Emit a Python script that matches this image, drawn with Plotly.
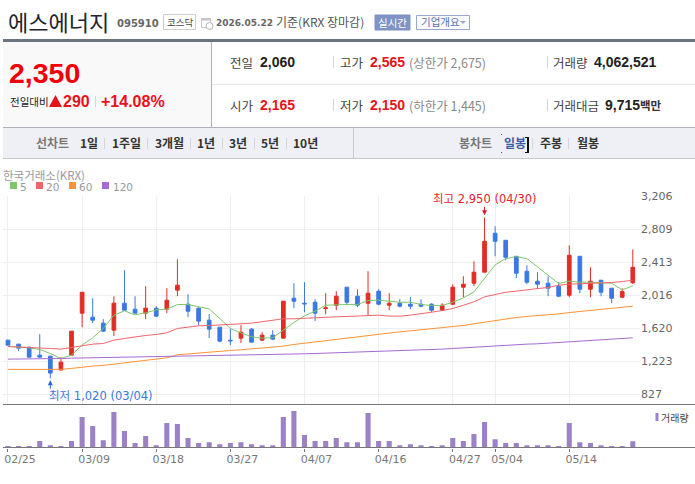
"""S-Energy daily candle chart page, rebuilt with plotly."""
import plotly.graph_objects as go

W, H = 695, 484
KR = "Noto Sans CJK KR, sans-serif"
CHART = "DejaVu Sans, Noto Sans CJK KR, sans-serif"
ARIAL = "Liberation Sans, Noto Sans CJK KR, sans-serif"
RED = "#e8121a"
CANDLE_UP = "#e22c26"
CANDLE_DOWN = "#3a78e2"

dates = [
    "02/25", "02/26", "02/27", "03/03", "03/04", "03/05", "03/06", "03/09", "03/10", "03/11",
    "03/12", "03/13", "03/16", "03/17", "03/18", "03/19", "03/20", "03/23", "03/24", "03/25",
    "03/26", "03/27", "03/30", "03/31", "04/01", "04/02", "04/03", "04/06", "04/07", "04/08",
    "04/09", "04/10", "04/13", "04/14", "04/15", "04/16", "04/17", "04/20", "04/21", "04/22",
    "04/23", "04/24", "04/27", "04/28", "04/29", "04/30", "05/04", "05/06", "05/07", "05/08",
    "05/11", "05/12", "05/13", "05/14", "05/15", "05/18", "05/19", "05/20", "05/21", "05/22",
]
opens = [
    1477, 1429, 1393, 1297, 1285, 1118, 1297, 1801, 1753, 1681,
    1597, 1920, 1848, 1801, 1860, 1848, 2076, 1908, 1860, 1717,
    1633, 1476, 1501, 1609, 1477, 1537, 1501, 1980, 1920, 1932,
    1856, 1896, 2112, 2004, 1920, 2064, 1896, 1920, 1908, 1908,
    1908, 1836, 1908, 2112, 2160, 2292, 2759, 2675, 2483, 2304,
    2184, 2160, 2124, 2016, 2483, 2088, 2196, 2100, 1992, 2165,
]
highs = [
    1477, 1429, 1393, 1549, 1285, 1273, 1585, 2052, 1980, 1729,
    2004, 2316, 2004, 2124, 1884, 2100, 2447, 2028, 1872, 1789,
    1633, 1617, 1657, 1621, 1573, 1597, 1944, 2160, 2172, 1968,
    2040, 2064, 2112, 2088, 2304, 2088, 2040, 1968, 1992, 1968,
    1920, 1920, 2148, 2244, 2423, 2950, 2843, 2675, 2483, 2375,
    2292, 2244, 2172, 2615, 2483, 2351, 2196, 2100, 2100, 2565,
]
lows = [
    1417, 1345, 1273, 1273, 1020, 1118, 1297, 1633, 1681, 1573,
    1525, 1836, 1801, 1729, 1753, 1801, 2004, 1753, 1657, 1501,
    1453, 1417, 1441, 1453, 1465, 1477, 1501, 1860, 1812, 1705,
    1788, 1836, 1896, 1872, 1777, 1896, 1836, 1872, 1848, 1872,
    1812, 1836, 1896, 1992, 2124, 2292, 2483, 2435, 2220, 2148,
    2088, 2004, 1992, 1992, 2040, 1992, 2004, 1920, 1980, 2150,
]
closes = [
    1417, 1381, 1273, 1273, 1082, 1213, 1585, 2052, 1717, 1585,
    1920, 1836, 1801, 1860, 1765, 1956, 2136, 1824, 1705, 1609,
    1465, 1469, 1573, 1453, 1537, 1489, 1944, 1944, 1912, 1801,
    1864, 2004, 1932, 1896, 2040, 1908, 1920, 1884, 1884, 1884,
    1836, 1896, 2112, 2148, 2292, 2663, 2663, 2471, 2280, 2172,
    2148, 2100, 2004, 2495, 2088, 2184, 2052, 1980, 2060, 2350,
]
ma5 = [
    1401, 1393, 1385, 1365, 1317, 1257, 1297, 1417, 1505, 1617,
    1777, 1828, 1781, 1805, 1840, 1848, 1904, 1904, 1880, 1852,
    1737, 1617, 1565, 1517, 1501, 1505, 1597, 1689, 1769, 1824,
    1896, 1904, 1904, 1904, 1952, 1956, 1944, 1932, 1932, 1904,
    1892, 1892, 1932, 1984, 2056, 2216, 2380, 2455, 2479, 2455,
    2356, 2248, 2156, 2184, 2172, 2172, 2164, 2160, 2080, 2128,
]
ma20 = [
    1401, 1397, 1393, 1385, 1377, 1369, 1389, 1417, 1429, 1437,
    1477, 1497, 1517, 1533, 1545, 1565, 1617, 1633, 1649, 1653,
    1657, 1665, 1673, 1681, 1701, 1717, 1733, 1733, 1741, 1749,
    1753, 1757, 1761, 1769, 1777, 1777, 1765, 1765, 1777, 1792,
    1812, 1832, 1856, 1896, 1936, 1996, 2028, 2052, 2064, 2084,
    2096, 2108, 2136, 2148, 2152, 2156, 2164, 2168, 2180, 2196,
]
ma60 = [
    1126, 1126, 1126, 1126, 1126, 1126, 1138, 1154, 1166, 1174,
    1190, 1206, 1218, 1230, 1246, 1265, 1301, 1313, 1325, 1337,
    1345, 1353, 1361, 1373, 1381, 1389, 1405, 1425, 1441, 1453,
    1469, 1481, 1497, 1517, 1529, 1549, 1561, 1577, 1589, 1601,
    1617, 1629, 1641, 1653, 1673, 1693, 1717, 1737, 1749, 1761,
    1769, 1781, 1792, 1808, 1820, 1832, 1844, 1856, 1868, 1884,
]
ma120 = [
    1249, 1249, 1251, 1253, 1257, 1257, 1261, 1263, 1265, 1267,
    1269, 1273, 1275, 1277, 1281, 1285, 1287, 1289, 1291, 1293,
    1295, 1297, 1297, 1297, 1299, 1301, 1305, 1309, 1313, 1317,
    1321, 1325, 1327, 1329, 1333, 1341, 1343, 1345, 1349, 1353,
    1365, 1369, 1377, 1385, 1393, 1401, 1413, 1419, 1425, 1429,
    1433, 1441, 1449, 1461, 1469, 1477, 1481, 1489, 1497, 1505,
]
volumes = [
    900000, 900000, 900000, 4100000, 1500000, 900000, 4100000, 19500000, 13700000, 4700000,
    22700000, 10500000, 2800000, 7300000, 1500000, 15600000, 15000000, 6000000, 2800000, 3400000,
    2100000, 2800000, 3400000, 2100000, 1500000, 1500000, 19500000, 23300000, 7900000, 4100000,
    4100000, 6000000, 3400000, 3400000, 22000000, 4100000, 4100000, 1500000, 2100000, 1500000,
    900000, 1500000, 6000000, 4100000, 8600000, 16200000, 5300000, 2800000, 2800000, 1500000,
    1500000, 1500000, 900000, 15600000, 3400000, 2800000, 1500000, 900000, 900000, 4062521,
]
price_ticks = [827, 1223, 1620, 2016, 2413, 2809, 3206]
date_ticks = ["02/25", "03/09", "03/18", "03/27", "04/07", "04/16", "04/27", "05/04", "05/14"]
ma_series = [("5", ma5, "#7cc86a"), ("20", ma20, "#f0656a"), ("60", ma60, "#ff9233"), ("120", ma120, "#a56ad6")]


def px(x):
    return x / W


def py(y):
    return 1 - y / H


def label(x, y, text, size=13, color="#444", family=KR, anchor="left", bold=False):
    # annotations carry about 2px of padding on the left
    body = f"<b>{text}</b>" if bold else text
    return dict(
        x=px(x - 2 if anchor == "left" else x), y=py(y), xref="paper", yref="paper", text=body, showarrow=False,
        xanchor=anchor, yanchor="middle", align=anchor,
        font=dict(size=size, color=color, family=family),
    )


def hline(y, x0, x1, color, width=1):
    return dict(type="line", xref="paper", yref="paper", x0=px(x0), x1=px(x1), y0=py(y), y1=py(y),
                line=dict(color=color, width=width))


def vline(x, y0, y1, color="#d5d5d5", width=1):
    return dict(type="line", xref="paper", yref="paper", x0=px(x), x1=px(x), y0=py(y0), y1=py(y1),
                line=dict(color=color, width=width))


def box(x0, y0, x1, y1, fill=None, line=None):
    return dict(type="rect", xref="paper", yref="paper", x0=px(x0), x1=px(x1), y0=py(y0), y1=py(y1),
                fillcolor=fill or "rgba(0,0,0,0)", line=dict(color=line or "rgba(0,0,0,0)", width=1 if line else 0),
                layer="below")


fig = go.Figure()
fig.add_trace(go.Candlestick(
    x=dates, open=opens, high=highs, low=lows, close=closes, whiskerwidth=0,
    increasing=dict(line=dict(color=CANDLE_UP, width=1), fillcolor=CANDLE_UP),
    decreasing=dict(line=dict(color=CANDLE_DOWN, width=1), fillcolor=CANDLE_DOWN),
    showlegend=False, xaxis="x", yaxis="y",
))
for name, values, color in ma_series:
    fig.add_trace(go.Scatter(x=dates, y=values, mode="lines", name=name, showlegend=False,
                             line=dict(color=color, width=1), xaxis="x", yaxis="y"))
fig.add_trace(go.Bar(x=dates, y=volumes, marker=dict(color="#9b82c6", line=dict(width=0)),
                     showlegend=False, xaxis="x2", yaxis="y2"))

shapes = [
    # header chrome
    box(3, 42, 211, 127, fill="#f9f9f9"),
    box(3, 128, 695, 158, fill="#eff0f5"),
    hline(40.5, 3, 695, "#6b7280", 3),
    hline(84.5, 212, 695, "#e6e6e6"),
    hline(127.5, 3, 695, "#b0b0b8"),
    hline(158.5, 3, 695, "#c8c8cc"),
    vline(211.5, 42, 127, "#b0b0b0"),
    vline(333.5, 56, 68), vline(333.5, 99, 111),
    vline(547.5, 56, 68), vline(547.5, 99, 111),
    vline(95.5, 96, 107),
    vline(353.5, 128, 158, "#c8c8cc"),
    box(163.5, 14.5, 195.5, 29.5, line="#cccccc"),
    # calendar icon
    box(201.5, 18.5, 210.5, 27.5, line="#c4c4c4"),
    box(201.5, 18.5, 210.5, 20.5, fill="#c4c4c4"),
    dict(type="circle", xref="paper", yref="paper", x0=px(206), x1=px(213), y0=py(29.5), y1=py(22.5),
         fillcolor="#ffffff", line=dict(color="#b4b4b4", width=1)),
    box(375, 15, 410, 30, fill="#7f93c4", line="#7f93c4"),
    box(416.5, 15.5, 469.5, 29.5, fill="#fbfbff", line="#9aa8d0"),
    dict(type="path", xref="paper", yref="paper", line=dict(width=0), fillcolor=RED,
         path=f"M {px(49)} {py(107)} L {px(62)} {py(107)} L {px(55.5)} {py(95)} Z"),
    dict(type="path", xref="paper", yref="paper", line=dict(width=0), fillcolor="#9aa8d0",
         path=f"M {px(460)} {py(21)} L {px(466)} {py(21)} L {px(463)} {py(24)} Z"),
    # selected tab cursor
    vline(528, 137, 153, "#111111", 2),
    hline(137.5, 525, 528, "#111111"),
    hline(152.5, 525, 528, "#111111"),
    box(501, 134, 502, 135, fill="#555555"),
    box(501, 152, 502, 153, fill="#555555"),
    # chart rules
    hline(404.5, 3, 695, "#777777"),
    hline(447.5, 3, 695, "#777777"),
    box(655.5, 413, 658.5, 421, fill="#9b82c6"),
]
for x in [104.5, 147.5, 190.5, 222.5, 254.5, 286.5, 532.5, 568.5]:
    shapes.append(vline(x, 138, 149))
for x0, (_, _, color) in zip([10, 36, 69, 102], ma_series):
    shapes.append(box(x0, 182, x0 + 7, 189, fill=color))

annotations = [
    label(8, 21, "에스에너지", size=22, color="#22242c"),
    label(117, 23, "095910", size=10, color="#666", family=CHART, bold=True),
    label(179.5, 22, "코스닥", size=9.5, color="#444", anchor="center"),
    label(216, 22.5, "2026.05.22", size=9, color="#666", family=CHART, bold=True),
    label(276, 22, "기준(KRX 장마감)", size=12, color="#555"),
    label(392.5, 22.5, "실시간", size=10.5, color="#ffffff", anchor="center"),
    label(421, 22, "기업개요", size=10.5, color="#5a6fa8"),
    label(9, 73, "2,350", size=28.5, color="#f00008", family=ARIAL, bold=True),
    label(10, 101, "전일대비", size=10.5, color="#222"),
    label(63, 101, "290", size=16, color=RED, family=ARIAL, bold=True),
    label(101, 101, "+14.08%", size=16, color=RED, family=ARIAL, bold=True),
    label(230, 62, "전일", size=12.5, color="#444"),
    label(260, 62, "2,060", size=14, color="#222", family=ARIAL, bold=True),
    label(340, 62, "고가", size=12.5, color="#444"),
    label(370, 62, "2,565", size=14, color=RED, family=ARIAL, bold=True),
    label(409, 62, "(상한가 2,675)", size=12.5, color="#888"),
    label(553, 62, "거래량", size=12.5, color="#444"),
    label(594, 62, "4,062,521", size=14, color="#222", family=ARIAL, bold=True),
    label(230, 105, "시가", size=12.5, color="#444"),
    label(260, 105, "2,165", size=14, color=RED, family=ARIAL, bold=True),
    label(340, 105, "저가", size=12.5, color="#444"),
    label(370, 105, "2,150", size=14, color=RED, family=ARIAL, bold=True),
    label(409, 105, "(하한가 1,445)", size=12.5, color="#888"),
    label(553, 105, "거래대금", size=12.5, color="#444"),
    label(605, 105, "9,715", size=14, color="#222", family=ARIAL, bold=True),
    label(640, 105, "백만", size=11.5, color="#333", bold=True),
    label(36, 143, "선차트", size=12, color="#777", bold=True),
    label(459, 143, "봉차트", size=12, color="#777", bold=True),
    label(504, 143, "일봉", size=12, color="#3a5ba8", bold=True),
    label(540, 143, "주봉", size=12, color="#333", bold=True),
    label(577, 143, "월봉", size=12, color="#333", bold=True),
    label(3, 174.5, "한국거래소(KRX)", size=11.5, color="#999"),
    label(20, 187, "5", size=10.5, color="#999", family=CHART),
    label(46, 187, "20", size=10.5, color="#999", family=CHART),
    label(79, 187, "60", size=10.5, color="#999", family=CHART),
    label(113, 187, "120", size=10.5, color="#999", family=CHART),
    label(661, 417, "거래량", size=10, color="#444"),
    # extremes, tied to the data
    dict(x="04/30", y=2950, xref="x", yref="y", text="최고 2,950 (04/30)", showarrow=False,
         xshift=0, yshift=18, xanchor="center", yanchor="middle",
         font=dict(size=11.5, color="#f0202a", family=CHART)),
    dict(x="04/30", y=2950, xref="x", yref="y", text="", showarrow=True, ax=0, ay=-12, standoff=2,
         arrowhead=2, arrowsize=1, arrowwidth=1, arrowcolor="#d81e24"),
    dict(x="03/04", y=1020, xref="x", yref="y", text="최저 1,020 (03/04)", showarrow=False,
         xshift=-3, yshift=-18, xanchor="left", yanchor="middle",
         font=dict(size=11.5, color="#3a78e2", family=CHART)),
    dict(x="03/04", y=1020, xref="x", yref="y", text="", showarrow=True, ax=0, ay=12, standoff=2,
         arrowhead=2, arrowsize=1, arrowwidth=1, arrowcolor="#2a66c8"),
]
for x, text in [(80, "1일"), (112, "1주일"), (155, "3개월"), (197, "1년"), (229, "3년"), (261, "5년"), (293, "10년")]:
    annotations.append(label(x, 143, text, size=12, color="#333", bold=True))

fig.update_layout(
    width=W, height=H, margin=dict(l=0, r=0, t=0, b=0, autoexpand=False),
    paper_bgcolor="white", plot_bgcolor="rgba(0,0,0,0)",
    boxgap=0.5, bargap=0.52, showlegend=False, hovermode=False,
    shapes=shapes, annotations=annotations,
    font=dict(family=CHART, color="#666", size=11),
    xaxis=dict(
        type="category", categoryorder="array", categoryarray=dates, automargin=False,
        domain=[px(3), px(640)], range=[-0.47, 59.68], anchor="y",
        tickmode="array", tickvals=date_ticks, showticklabels=False, ticks="",
        showgrid=True, gridcolor="#eeeeee", gridwidth=1, zeroline=False, showline=False,
        rangeslider=dict(visible=False),
    ),
    yaxis=dict(
        domain=[py(404.5), py(196)], range=[705, 3206], side="right", anchor="x", automargin=False,
        tickmode="array", tickvals=price_ticks, ticktext=[f"{v:,}" for v in price_ticks],
        ticks="", showgrid=True, gridcolor="#eeeeee", gridwidth=1, zeroline=False, showline=False,
        tickfont=dict(size=11, color="#666", family=CHART),
    ),
    xaxis2=dict(
        type="category", categoryorder="array", categoryarray=dates, automargin=False,
        domain=[px(3), px(640)], range=[-0.47, 59.68], anchor="y2",
        tickmode="array", tickvals=date_ticks, ticktext=date_ticks,
        ticks="outside", ticklen=3, tickcolor="#777777", tickwidth=1, ticklabelshift=12,
        ticklabelstandoff=-2,
        tickfont=dict(size=11, color="#777", family=CHART), tickangle=0,
        showgrid=False, zeroline=False, showline=False,
    ),
    yaxis2=dict(domain=[py(447.5), py(405)], range=[0, 27100000], anchor="x2", visible=False, showgrid=False,
                automargin=False),
)

fig.write_html("out.html", config=dict(displayModeBar=False),
               post_script="document.body.style.margin='0';document.body.style.overflow='hidden';")
